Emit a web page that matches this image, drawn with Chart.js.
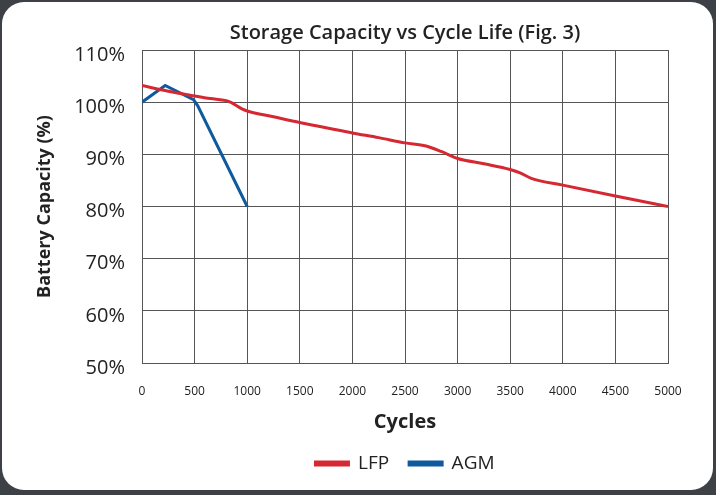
<!DOCTYPE html>
<html>
<head>
<meta charset="utf-8">
<script src="https://cdn.jsdelivr.net/npm/chart.js@4.4.1/dist/chart.umd.min.js"></script>
<style>
  html, body { margin: 0; padding: 0; background: #3d4045; }
  #card {
    position: absolute; left: 2px; top: 2px; width: 711px; height: 488px;
    background: #fff; border-radius: 22px;
  }
  #wrap { position: absolute; left: 0; top: 0; width: 716px; height: 495px; }
</style>
</head>
<body>
<div id="card"></div>
<div id="wrap"><canvas id="capacity-chart"></canvas></div>
<script>
// cycles / capacity
const lfpCycles = [0, 250, 500, 650, 800, 850, 950, 1000, 1250, 1500, 1750, 2000, 2250, 2500, 2700, 2850, 3000, 3250, 3500, 3600, 3700, 4000, 4500, 5000];
const lfpCapacity = [103.2, 102.1, 101.2, 100.7, 100.3, 99.9, 98.7, 98.3, 97.2, 96.1, 95.1, 94.1, 93.2, 92.2, 91.6, 90.5, 89.2, 88.2, 87.1, 86.4, 85.4, 84.1, 82.0, 80.0];

const agmCycles = [0, 220, 490, 530, 1000];
const agmCapacity = [100, 103.2, 100.5, 99.3, 80];

const seriesNames = ['LFP', 'AGM'];
const seriesColors = ['#d62832', '#0f5a9e'];

const chartTitle = 'Storage Capacity vs Cycle Life (Fig. 3)';
const xTitle = 'Cycles';
const yTitle = 'Battery Capacity (%)';

function toPoints(xs, ys) {
    return xs.map((x, i) => ({ x: x, y: ys[i] }));
}

const gridColor = '#555';
const ctx = document.getElementById('capacity-chart').getContext('2d');

new Chart(ctx, {
    type: 'line',
    data: {
        datasets: [
            {
                label: seriesNames[0],
                data: toPoints(lfpCycles, lfpCapacity),
                borderColor: seriesColors[0],
                backgroundColor: seriesColors[0],
                borderWidth: 3,
                pointRadius: 0,
                cubicInterpolationMode: 'monotone'
            },
            {
                label: seriesNames[1],
                data: toPoints(agmCycles, agmCapacity),
                borderColor: seriesColors[1],
                backgroundColor: seriesColors[1],
                borderWidth: 3,
                pointRadius: 0,
                tension: 0
            }
        ]
    },
    options: {
        responsive: true,
        maintainAspectRatio: false,
        animation: false,
        layout: { padding: { top: 13, left: 20, right: 48, bottom: 12 } },
        plugins: {
            title: {
                display: true,
                text: chartTitle,
                fullSize: false,
                color: '#222',
                font: { family: 'Open Sans', size: 20, weight: '600' },
                padding: { top: 8, bottom: 5 }
            },
            legend: {
                position: 'bottom',
                fullSize: false,
                labels: {
                    boxWidth: 33,
                    boxHeight: 3,
                    padding: 20,
                    color: '#222',
                    font: { family: 'Open Sans', size: 19 }
                }
            },
            tooltip: { enabled: false }
        },
        scales: {
            x: {
                type: 'linear',
                min: 0,
                max: 5000,
                ticks: {
                    stepSize: 500,
                    padding: 21,
                    color: '#222',
                    font: { family: 'Open Sans', size: 12 },
                    callback: (v) => String(v)
                },
                grid: { color: gridColor, drawTicks: false },
                border: { color: gridColor },
                title: {
                    display: true,
                    text: xTitle,
                    color: '#222',
                    font: { family: 'Open Sans', size: 20, weight: '700' },
                    padding: { top: 0, bottom: 0 }
                },
                afterFit: (scale) => { scale.height = 71; }
            },
            y: {
                min: 50,
                max: 110,
                ticks: {
                    stepSize: 10,
                    padding: 17,
                    labelOffset: 5,
                    color: '#222',
                    font: { family: 'Open Sans', size: 20 },
                    callback: (v) => v + '%'
                },
                grid: { color: gridColor, drawTicks: false },
                border: { color: gridColor },
                title: {
                    display: true,
                    text: yTitle,
                    color: '#222',
                    font: { family: 'Open Sans', size: 18, weight: '700' },
                    padding: { top: 14, bottom: 0 }
                },
                afterFit: (scale) => { scale.width = 122; }
            }
        }
    }
});
</script>
</body>
</html>
